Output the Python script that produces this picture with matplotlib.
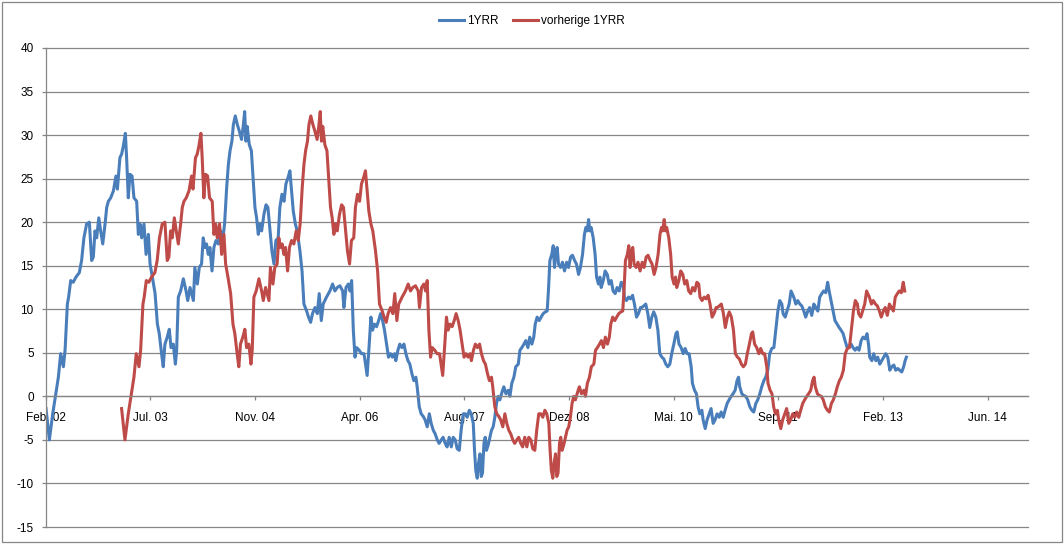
import matplotlib
matplotlib.use("Agg")
import matplotlib.pyplot as plt
from matplotlib.patches import Rectangle
from matplotlib.lines import Line2D
import numpy as np

# ---------------- data ----------------
series_names = ["1YRR", "vorherige 1YRR"]
tick_labels = ["Feb. 02", "Jul. 03", "Nov. 04", "Apr. 06", "Aug. 07",
               "Dez. 08", "Mai. 10", "Sep. 11", "Feb. 13", "Jun. 14"]
tick_step_days = 500          # Excel major unit (days), axis starts late Feb 2002
axis_end_day = 4693
lag_days = 361                # "vorherige" = value one year earlier
y_ticks = list(range(-15, 41, 5))

# days since axis start (approx. 25 Feb 2002) and 1YRR values
days_a = [2, 18, 34, 53, 61, 72, 85, 93, 104, 110,
          120, 132, 145, 161, 172, 183, 196, 209, 220, 228,
          236, 244, 254, 263, 273, 284, 292, 300, 311, 324,
          336, 343, 355, 363, 371, 381, 387, 395, 403, 413,
          422, 435, 443, 451, 459, 470, 480, 491, 499, 510,
          523, 534, 543, 554, 562, 570, 581, 591, 599, 610,
          620, 626, 634, 645, 658, 671, 679]
vals_a = [-1.4, -5.0, -2.0, 1.0, 2.2, 4.9, 3.4, 5.3, 10.6, 11.4,
          13.3, 13.1, 13.7, 14.2, 15.6, 18.2, 19.8, 20.0, 15.6, 16.0,
          19.0, 18.2, 20.5, 19.0, 17.5, 19.8, 21.7, 22.4, 22.8, 23.6,
          25.3, 23.8, 27.4, 27.8, 28.7, 30.2, 27.4, 22.8, 25.5, 25.3,
          22.8, 22.4, 18.6, 19.8, 18.2, 19.8, 16.3, 18.6, 15.2, 13.7,
          11.8, 8.3, 7.2, 4.9, 3.4, 6.0, 6.8, 7.7, 5.6, 6.0,
          3.7, 5.3, 11.4, 12.1, 13.5, 12.1, 11.0]

days_b = [690, 706, 713, 725, 734, 745, 753, 761, 769, 777,
          785, 795, 804, 814, 825, 836, 846, 855, 865, 873,
          881, 890, 897, 906, 916, 925, 936, 944, 951, 957,
          963, 973, 983, 992, 1000, 1008, 1016, 1024, 1032, 1043,
          1053, 1062, 1072, 1081, 1091, 1100, 1111, 1119, 1129, 1139,
          1148, 1158, 1167, 1175, 1183, 1193, 1202, 1215, 1225, 1234,
          1247, 1256, 1266, 1275, 1287, 1298, 1307, 1317, 1326, 1342,
          1358, 1371, 1382, 1393]
vals_b = [12.5, 11.0, 14.8, 12.9, 14.8, 15.2, 18.2, 17.1, 17.5, 16.3,
          17.1, 14.4, 17.1, 17.9, 17.5, 19.0, 17.9, 19.8, 24.0, 26.6,
          28.2, 29.3, 31.2, 32.2, 31.2, 30.5, 29.5, 31.0, 32.7, 29.3,
          31.0, 28.9, 28.2, 24.7, 21.7, 20.5, 18.6, 19.8, 19.0, 20.9,
          22.0, 21.7, 19.0, 16.7, 15.2, 17.9, 18.2, 21.7, 23.2, 22.4,
          24.4, 25.1, 25.9, 23.6, 21.3, 19.8, 19.0, 16.7, 14.4, 10.6,
          9.8, 9.1, 8.5, 9.5, 10.2, 9.5, 11.8, 8.7, 10.6, 11.4,
          12.1, 12.9, 12.1, 12.5]

days_c = [1406, 1419, 1425, 1435, 1446, 1454, 1462, 1470, 1478, 1486,
          1498, 1509, 1521, 1530, 1536, 1546, 1554, 1562, 1571, 1581,
          1591, 1600, 1610, 1619, 1629, 1638, 1648, 1657, 1667, 1673,
          1683, 1692, 1702, 1712, 1721, 1731, 1740, 1750, 1759, 1769,
          1775, 1785, 1794, 1804, 1813, 1823, 1833, 1842, 1852, 1861,
          1871, 1880, 1890, 1899, 1909, 1918, 1928, 1938, 1947, 1957,
          1966, 1976, 1985, 1995, 2005, 2014, 2024, 2033, 2043, 2049,
          2055, 2062, 2068, 2075, 2081, 2087, 2094, 2100, 2106, 2114]
vals_c = [12.7, 12.1, 10.2, 12.5, 12.9, 12.1, 13.3, 7.6, 4.5, 5.6,
          5.3, 4.9, 4.9, 3.4, 2.4, 6.0, 9.1, 7.6, 8.3, 8.0,
          8.7, 9.5, 8.7, 7.6, 6.0, 4.5, 4.9, 4.5, 4.9, 4.1,
          5.3, 6.0, 5.6, 6.0, 4.9, 4.1, 3.7, 2.6, 1.8, 2.2,
          1.1, -1.2, -2.0, -2.3, -2.7, -3.5, -2.0, -3.1, -3.9, -4.3,
          -5.0, -5.4, -5.0, -4.7, -5.4, -5.8, -4.7, -5.8, -4.7, -5.0,
          -6.0, -6.2, -3.9, -2.0, -2.0, -2.4, -1.6, -2.0, -3.1, -6.2,
          -8.5, -9.4, -7.7, -6.6, -9.2, -8.8, -5.4, -4.7, -6.2, -5.6]

days_d = [2130, 2138, 2146, 2154, 2162, 2170, 2183, 2189, 2199, 2210,
          2218, 2227, 2237, 2246, 2258, 2266, 2275, 2285, 2294, 2304,
          2313, 2323, 2332, 2339, 2348, 2358, 2367, 2377, 2387, 2396,
          2402, 2409, 2418, 2425, 2431, 2438, 2444, 2450, 2460, 2469,
          2479, 2489, 2498, 2508, 2517, 2527, 2536, 2546, 2555, 2565,
          2574, 2581, 2587, 2594, 2600, 2606, 2616, 2625, 2632, 2641,
          2648, 2654, 2664, 2673, 2683, 2692, 2702, 2711, 2721, 2730,
          2740, 2750, 2759, 2765, 2775, 2785, 2794, 2804, 2813, 2823,
          2832, 2842]
vals_d = [-3.9, -3.5, -2.4, -0.8, 0.0, -0.4, 0.7, 1.1, 0.3, 0.7,
          0.0, 1.5, 2.2, 3.4, 3.7, 5.3, 5.6, 6.0, 6.4, 5.6,
          6.8, 6.0, 6.8, 8.3, 9.1, 8.7, 9.1, 9.5, 9.7, 9.8,
          12.1, 15.6, 16.3, 17.3, 14.8, 16.7, 17.1, 15.2, 14.8, 15.4,
          14.4, 15.4, 14.8, 16.0, 16.2, 15.6, 15.2, 14.0, 14.8, 16.3,
          18.6, 19.4, 19.0, 20.3, 19.0, 19.4, 18.2, 16.3, 13.7, 12.9,
          13.7, 12.5, 13.3, 14.4, 14.0, 12.9, 13.3, 12.1, 11.8, 12.5,
          12.1, 13.1, 12.9, 11.4, 11.0, 11.4, 11.2, 11.6, 10.6, 9.1,
          9.5, 10.2]

days_e = [2848, 2858, 2867, 2877, 2886, 2896, 2905, 2915, 2925, 2934,
          2944, 2953, 2963, 2972, 2982, 2991, 3001, 3011, 3017, 3026,
          3036, 3046, 3055, 3065, 3074, 3084, 3090, 3100, 3109, 3117,
          3125, 3135, 3141, 3151, 3160, 3170, 3179, 3189, 3198, 3208,
          3218, 3227, 3237, 3246, 3256, 3265, 3275, 3284, 3294, 3303,
          3310, 3316, 3326, 3335, 3345, 3354, 3364, 3374, 3383, 3393,
          3402, 3412, 3421, 3431, 3440, 3450, 3459, 3469, 3479, 3488,
          3498, 3507, 3517, 3523, 3533, 3542, 3552, 3561]
vals_e = [10.2, 10.4, 10.6, 9.5, 7.9, 9.1, 9.7, 9.1, 7.6, 4.9,
          4.5, 4.3, 3.7, 3.4, 3.7, 4.9, 6.0, 7.2, 7.4, 6.0,
          5.6, 4.9, 5.5, 4.9, 4.9, 3.4, 1.5, 0.7, 0.3, -1.2,
          -2.0, -1.6, -2.7, -3.7, -2.7, -2.0, -1.4, -3.1, -2.7, -2.0,
          -2.4, -1.8, -2.4, -1.6, -0.8, -0.4, 0.0, 0.3, 0.7, 1.8,
          2.2, 1.1, 0.3, 0.1, 0.0, -0.4, -1.2, -1.6, -1.8, -0.8,
          -0.4, 0.3, 1.1, 1.8, 2.2, 3.0, 4.9, 5.5, 5.6, 7.6,
          9.8, 11.0, 10.6, 9.5, 9.1, 9.8, 10.6, 12.1]

days_f = [3574, 3584, 3593, 3603, 3612, 3622, 3631, 3641, 3650, 3660,
          3670, 3679, 3689, 3698, 3708, 3717, 3727, 3736, 3743, 3752,
          3762, 3771, 3781, 3791, 3800, 3810, 3819, 3829, 3838, 3848,
          3857, 3867, 3876, 3886, 3896, 3905, 3915, 3924, 3931, 3937,
          3947, 3956, 3966, 3975, 3985, 3994, 4004, 4013, 4023, 4033,
          4042, 4052, 4061, 4071, 4080, 4090, 4099, 4106, 4112]
vals_f = [11.4, 10.6, 11.0, 10.6, 10.4, 9.8, 9.1, 9.8, 10.2, 9.3,
          10.6, 10.2, 9.8, 11.4, 11.8, 12.1, 11.9, 13.1, 12.1, 11.0,
          9.8, 8.7, 8.3, 7.9, 7.6, 7.2, 6.4, 5.6, 5.8, 6.0,
          5.6, 5.3, 5.6, 5.3, 6.4, 6.8, 6.6, 7.2, 6.0, 4.5,
          4.1, 4.9, 4.1, 4.5, 3.7, 4.1, 4.5, 4.9, 4.5, 3.0,
          3.4, 3.6, 3.0, 3.2, 3.0, 2.8, 3.4, 4.1, 4.5]

# ---------------- assemble ----------------
blue_days = np.array(days_a + days_b + days_c + days_d + days_e + days_f, float)
blue_vals = np.array(vals_a + vals_b + vals_c + vals_d + vals_e + vals_f, float)
last_day = blue_days[-1]
red_days = blue_days + lag_days
keep = red_days <= last_day
red_days = red_days[keep]
red_vals = blue_vals[keep]

BLUE = "#4A7EBB"
RED = "#BE4B48"
GRID = "#868686"

plt.rcParams["font.family"] = ["Liberation Sans", "DejaVu Sans"]
plt.rcParams["axes.unicode_minus"] = False

W, H = 1064, 544
fig = plt.figure(figsize=(W / 100, H / 100), dpi=100)
fig.patches.append(Rectangle((2 / W, 2 / H), 1 - 4 / W, 1 - 4 / H,
                             transform=fig.transFigure, fill=False,
                             edgecolor=GRID, linewidth=0.9))

ax = fig.add_axes([45.6 / W, 17 / H, (1028 - 45.6) / W, 479 / H])
ax.plot(blue_days, blue_vals, color=BLUE, lw=2.2, solid_joinstyle="round")
ax.plot(red_days, red_vals, color=RED, lw=2.2, solid_joinstyle="round")

ax.set_xlim(0, axis_end_day)
ax.set_ylim(-15, 40)
ax.set_yticks(y_ticks)
ax.set_yticklabels([str(v) for v in y_ticks])
ax.set_xticks([k * tick_step_days for k in range(len(tick_labels))])
ax.set_xticklabels(tick_labels)

for s in ("top", "right"):
    ax.spines[s].set_visible(False)
ax.spines["bottom"].set_position(("data", 0))
ax.spines["bottom"].set_color(GRID)
ax.spines["left"].set_color(GRID)
ax.spines["bottom"].set_linewidth(0.9)
ax.spines["left"].set_linewidth(0.9)

ax.yaxis.grid(True, color=GRID, linewidth=0.9)
for gl in ax.yaxis.get_gridlines():
    gl.set_clip_on(False)
ax.set_axisbelow("line")
ax.tick_params(axis="both", direction="out", length=3, width=0.9,
               color=GRID, labelsize=8.5, labelcolor="black")
ax.tick_params(axis="x", pad=8.5)
ax.tick_params(axis="y", pad=5.5)

handles = [Line2D([], [], color=BLUE, lw=2.2), Line2D([], [], color=RED, lw=2.2)]
fig.legend(handles, series_names, loc="center", bbox_to_anchor=(0.5, 1 - 21 / H),
           ncol=2, frameon=False, fontsize=8.5, handlelength=2.1,
           handletextpad=0.3, columnspacing=1.2)

fig.savefig("out.png", dpi=100)
